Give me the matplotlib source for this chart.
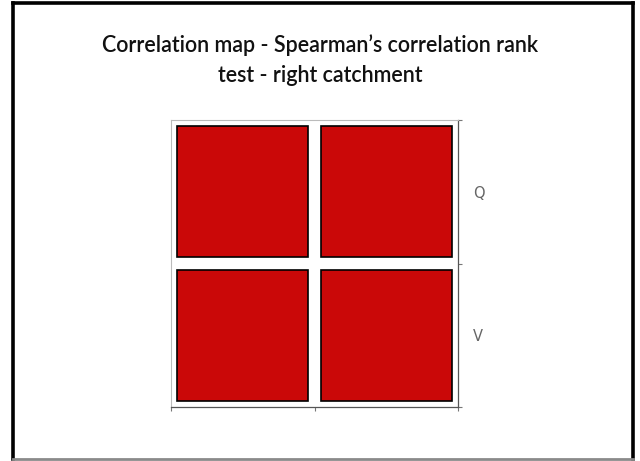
import matplotlib
matplotlib.use("Agg")
import matplotlib.pyplot as plt
from matplotlib.patches import Rectangle
from matplotlib.colors import LinearSegmentedColormap
from matplotlib.lines import Line2D

# Data
variables = ["Q", "V"]
corr = [[1.0, 1.0],
        [1.0, 1.0]]
title = "Correlation map - Spearman\u2019s correlation rank\ntest - right catchment"

cmap = LinearSegmentedColormap.from_list("bwr_like", ["#1030C0", "#FFFFFF", "#CA0808"])

fig = plt.figure(figsize=(6.4, 4.61), dpi=100)
fig.patch.set_facecolor("white")

# outer frame
fig.add_artist(Line2D([13/640, 13/640], [1-3/461, 1-459/461], color="black", lw=2.6, transform=fig.transFigure))
fig.add_artist(Line2D([633/640, 633/640], [1-3/461, 1-459/461], color="black", lw=2.6, transform=fig.transFigure))
fig.add_artist(Line2D([13/640, 633/640], [1-3/461, 1-3/461], color="black", lw=2.6, transform=fig.transFigure))
fig.add_artist(Line2D([13/640, 633/640], [1-459/461, 1-459/461], color="#8A8A8A", lw=2.0, transform=fig.transFigure))

fig.text(0.5, 1-60/461, title, ha="center", va="center", fontsize=15.5,
         family=["Lato", "DejaVu Sans"], fontweight="semibold", linespacing=1.55, color="#111111")

ax = fig.add_axes([171/640, 1-407/461, (458-171)/640, (407-120)/461])
n = len(variables)
inset = 0.045
for i in range(n):
    for j in range(n):
        ax.add_patch(Rectangle((j + inset, n - 1 - i + inset), 1 - 2*inset, 1 - 2*inset,
                               facecolor=cmap((corr[i][j] + 1) / 2), edgecolor="black", lw=1.2))
ax.set_xlim(0, n)
ax.set_ylim(0, n)
ax.set_xticks(range(n + 1))
ax.set_xticklabels([])
ax.set_yticks([k + 0.5 for k in range(n)], minor=True)
ax.set_yticklabels(variables[::-1], minor=True)
ax.set_yticks(range(n + 1))
ax.set_yticklabels([])
ax.yaxis.tick_right()
ax.tick_params(axis="y", which="minor", length=0, pad=11, labelsize=10.5, labelcolor="#666666")
ax.tick_params(axis="y", which="major", length=3, color="#777777", direction="out")
ax.tick_params(axis="x", which="major", length=3, color="#777777", direction="out")
for s in ["left", "top"]:
    ax.spines[s].set_color("#BBBBBB")
    ax.spines[s].set_linewidth(0.8)
for s in ["right", "bottom"]:
    ax.spines[s].set_color("#555555")
    ax.spines[s].set_linewidth(0.9)

fig.savefig("out.png", dpi=100)
